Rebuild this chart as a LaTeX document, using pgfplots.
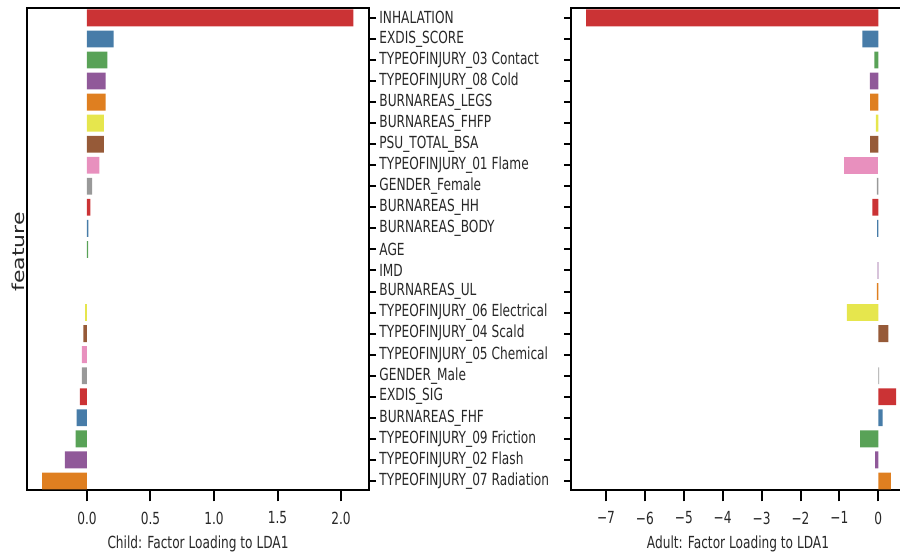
\documentclass[border=0pt]{standalone}
\usepackage{fontspec}
\setmainfont{DejaVu Sans}[FakeStretch=0.73]
\newfontfamily\labfont{DejaVu Sans}
\usepackage{graphicx}
\usepackage{pgfplots}
\pgfplotsset{compat=1.18}
\definecolor{cRed}{RGB}{203,51,53}
\definecolor{cBlue}{RGB}{71,124,168}
\definecolor{cGreen}{RGB}{89,162,87}
\definecolor{cPurple}{RGB}{144,89,153}
\definecolor{cOrange}{RGB}{223,127,32}
\definecolor{cYellow}{RGB}{230,230,77}
\definecolor{cBrown}{RGB}{150,90,56}
\definecolor{cPink}{RGB}{232,144,190}
\definecolor{cGrey}{RGB}{153,153,153}
\definecolor{txt}{RGB}{40,40,40}
\pgfplotsset{
  myax/.style={
    scale only axis,
    xbar, bar width=0.8, bar shift=0pt,
    y dir=reverse, ymin=-0.47, ymax=22.43,
    ytick={0,...,22},
    axis line style={line width=1.7pt, black},
    every tick/.style={line width=1.5pt, black},
    tick align=outside,
    xtick style={/pgfplots/major tick length=8.5pt},
    ytick style={/pgfplots/major tick length=5.25pt},
    xtick pos=bottom,
    ticklabel style={font=\fontsize{12.5}{14}\selectfont, text=txt},
    xticklabel style={yshift=-8.5pt},
    xlabel style={font=\fontsize{12.5}{14}\selectfont, text=txt, yshift=-2pt},
    height=361.5pt,
    every axis plot/.append style={draw=none},
  }
}
\begin{document}
\begin{tikzpicture}
\begin{axis}[myax, name=L, anchor=south west, at={(20.25pt,47.25pt)},
  width=256.5pt, xmin=-0.472, xmax=2.22,
  xtick={0,0.5,1,1.5,2}, xticklabels={0.0,0.5,1.0,1.5,2.0},
  ytick pos=right,
  yticklabel style={anchor=west},
  yticklabels={INHALATION,EXDIS\_SCORE,TYPEOFINJURY\_03 Contact,TYPEOFINJURY\_08 Cold,BURNAREAS\_LEGS,BURNAREAS\_FHFP,PSU\_TOTAL\_BSA,TYPEOFINJURY\_01 Flame,GENDER\_Female,BURNAREAS\_HH,BURNAREAS\_BODY,AGE,IMD,BURNAREAS\_UL,TYPEOFINJURY\_06 Electrical,TYPEOFINJURY\_04 Scald,TYPEOFINJURY\_05 Chemical,GENDER\_Male,EXDIS\_SIG,BURNAREAS\_FHF,TYPEOFINJURY\_09 Friction,TYPEOFINJURY\_02 Flash,TYPEOFINJURY\_07 Radiation},
  xlabel={Child: Factor Loading to LDA1},
]
\addplot[fill=cRed] coordinates {(2.097,0) (0.026,9) (-0.055,18)};
\addplot[fill=cBlue] coordinates {(0.21,1) (0.012,10) (-0.081,19)};
\addplot[fill=cGreen] coordinates {(0.16,2) (0.01,11) (-0.089,20)};
\addplot[fill=cPurple] coordinates {(0.147,3) (-0.173,21)};
\addplot[fill=cOrange] coordinates {(0.147,4) (-0.352,22)};
\addplot[fill=cYellow] coordinates {(0.134,5) (-0.015,14)};
\addplot[fill=cBrown] coordinates {(0.134,6) (-0.029,15)};
\addplot[fill=cPink] coordinates {(0.097,7) (-0.04,16)};
\addplot[fill=cGrey] coordinates {(0.04,8) (-0.04,17)};
\end{axis}
\begin{axis}[myax, name=R, anchor=south west, at={(428.25pt,47.25pt)},
  width=250.5pt, xmin=-7.9, xmax=0.686,
  xtick={-7,-6,-5,-4,-3,-2,-1,0}, xticklabels={−7,−6,−5,−4,−3,−2,−1,0},
  ytick pos=left, yticklabels={},
  xlabel={Adult: Factor Loading to LDA1},
]
\addplot[fill=cRed] coordinates {(-7.51,0) (-0.15,9) (0.46,18)};
\addplot[fill=cBlue] coordinates {(-0.41,1) (-0.03,10) (0.11,19)};
\addplot[fill=cGreen] coordinates {(-0.10,2) (-0.47,20)};
\addplot[fill=cPurple] coordinates {(-0.22,3) (-0.02,12) (-0.08,21)};
\addplot[fill=cOrange] coordinates {(-0.21,4) (-0.04,13) (0.32,22)};
\addplot[fill=cYellow] coordinates {(-0.06,5) (-0.81,14)};
\addplot[fill=cBrown] coordinates {(-0.21,6) (0.26,15)};
\addplot[fill=cPink] coordinates {(-0.89,7)};
\addplot[fill=cGrey] coordinates {(-0.04,8) (0.02,17)};
\end{axis}
\node[rotate=90, text=txt, inner sep=0pt] at (13.5pt,225.75pt) {\scalebox{1}[0.75]{\labfont\fontsize{16.5}{18}\selectfont feature}};
\pgfresetboundingbox
\path[use as bounding box] (0,0) rectangle (675pt,414.75pt);
\end{tikzpicture}
\end{document}
